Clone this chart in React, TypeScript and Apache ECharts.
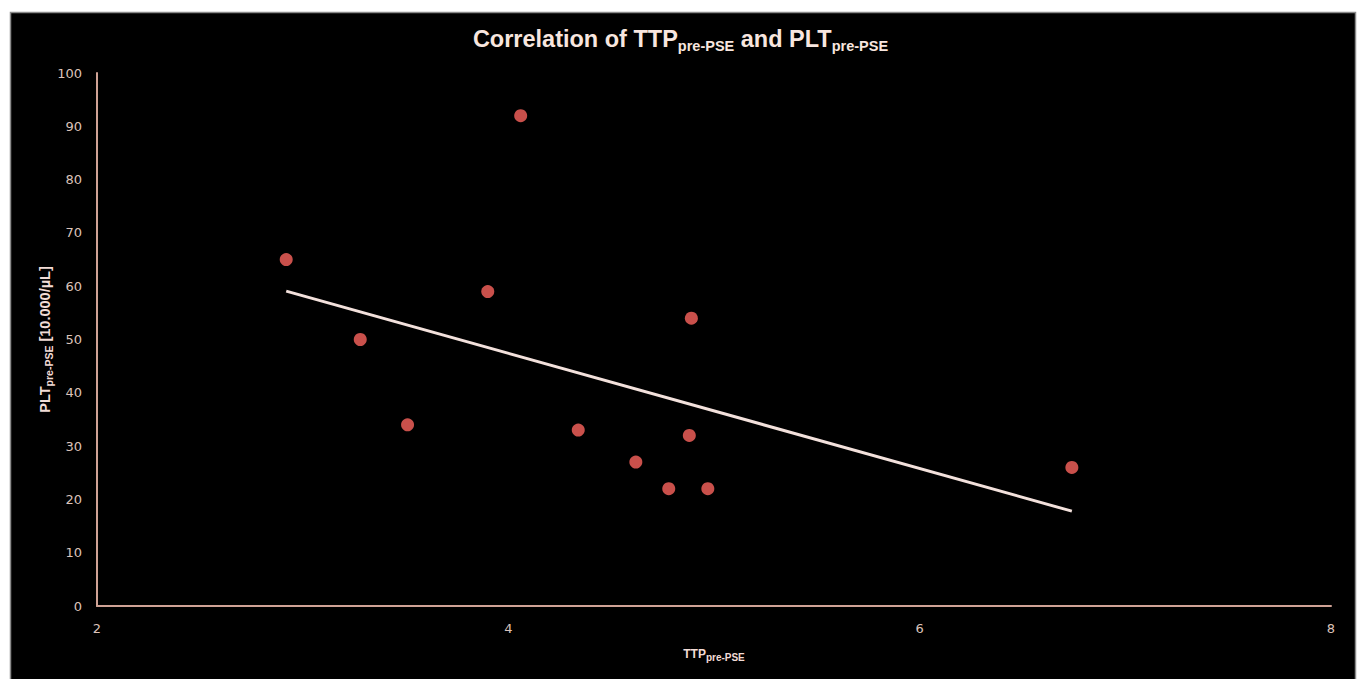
import React, { useEffect, useRef } from "react";
import * as echarts from "echarts";

// TTP pre-PSE (x) and PLT pre-PSE [10.000/µL] (y)
const ttpValues = [2.92, 3.28, 3.51, 3.9, 4.06, 4.34, 4.62, 4.78, 4.88, 4.89, 4.97, 6.74];
const pltValues = [65, 50, 34, 59, 92, 33, 27, 22, 32, 54, 22, 26];

const xAxisRange = [2, 8];
const xTickStep = 2;
const yAxisRange = [0, 100];
const yTickStep = 10;

const titleText = "Correlation of TTP{s|pre-PSE} and PLT{s|pre-PSE}";
const xName = "TTP{s|pre-PSE}";
const yName = "PLT{s|pre-PSE} [10.000/µL]";

function linearFit(xs: number[], ys: number[]) {
  const n = xs.length;
  const mx = xs.reduce((a, b) => a + b, 0) / n;
  const my = ys.reduce((a, b) => a + b, 0) / n;
  let sxy = 0;
  let sxx = 0;
  for (let i = 0; i < n; i++) {
    sxy += (xs[i] - mx) * (ys[i] - my);
    sxx += (xs[i] - mx) * (xs[i] - mx);
  }
  const slope = sxy / sxx;
  const intercept = my - slope * mx;
  return { slope, intercept };
}

export default function App() {
  const ref = useRef<HTMLDivElement>(null);

  useEffect(() => {
    if (!ref.current) return;
    const chart = echarts.init(ref.current, undefined, { renderer: "svg" });
    const { slope, intercept } = linearFit(ttpValues, pltValues);
    const xMin = Math.min(...ttpValues);
    const xMax = Math.max(...ttpValues);
    const trend = [
      [xMin, intercept + slope * xMin],
      [xMax, intercept + slope * xMax],
    ];
    const labelColor = "#dcc3ba";
    const axisColor = "#cfa295";
    const font = "'Liberation Sans', Arial, sans-serif";
    const tickFont = "'DejaVu Sans', sans-serif";

    chart.setOption({
      animation: false,
      backgroundColor: "#ffffff",
      graphic: [
        {
          type: "rect",
          z: -10,
          shape: { x: 10.5, y: 12.5, width: 1345, height: 700 },
          style: { fill: "#000000", stroke: "#8a8a8a", lineWidth: 1.5 },
          silent: true,
        },
      ],
      title: {
        text: titleText,
        left: "center",
        top: 25,
        padding: 0,
        textStyle: {
          color: "#f8e6df",
          fontSize: 23.5,
          fontWeight: "bold",
          fontFamily: font,
          lineHeight: 28,
          rich: {
            s: {
              color: "#f8e6df",
              fontSize: 14.5,
              fontWeight: "bold",
              fontFamily: font,
              lineHeight: 10,
              verticalAlign: "bottom",
            },
          },
        },
      },
      grid: { left: 97, right: 30, top: 73, bottom: 73 },
      xAxis: {
        type: "value",
        min: xAxisRange[0],
        max: xAxisRange[1],
        interval: xTickStep,
        name: xName,
        nameLocation: "middle",
        nameGap: 40,
        nameMoveOverlap: false,
        nameTextStyle: {
          color: "#f2dcd6",
          fontSize: 12,
          fontWeight: "bold",
          fontFamily: font,
          lineHeight: 16,
          rich: {
            s: {
              color: "#f2dcd6",
              fontSize: 10,
              fontFamily: font,
              lineHeight: 8,
              verticalAlign: "bottom",
            },
          },
        },
        axisLine: { show: true, onZero: false, lineStyle: { color: axisColor, width: 2 } },
        axisTick: { show: false },
        splitLine: { show: false },
        axisLabel: { color: labelColor, fontSize: 13, fontFamily: tickFont, margin: 16 },
      },
      yAxis: {
        type: "value",
        min: yAxisRange[0],
        max: yAxisRange[1],
        interval: yTickStep,
        name: yName,
        nameLocation: "middle",
        nameGap: 43,
        nameMoveOverlap: false,
        nameTextStyle: {
          color: "#f2dcd6",
          fontSize: 14.5,
          fontWeight: "bold",
          fontFamily: font,
          lineHeight: 18,
          rich: {
            s: {
              color: "#f2dcd6",
              fontSize: 10.5,
              fontFamily: font,
              lineHeight: 9,
              verticalAlign: "bottom",
            },
          },
        },
        axisLine: { show: true, lineStyle: { color: axisColor, width: 2 } },
        axisTick: { show: false },
        splitLine: { show: false },
        axisLabel: { color: labelColor, fontSize: 13, fontFamily: tickFont, margin: 15 },
      },
      series: [
        {
          type: "line",
          data: trend,
          symbol: "none",
          lineStyle: { color: "#f3e1dc", width: 3 },
          z: 2,
        },
        {
          type: "scatter",
          data: ttpValues.map((x, i) => [x, pltValues[i]]),
          symbol: "circle",
          symbolSize: 13,
          itemStyle: { color: "#c9504b", opacity: 1 },
          z: 3,
        },
      ],
    });
    return () => chart.dispose();
  }, []);

  return (
    <div
      ref={ref}
      style={{ position: "absolute", left: 0, top: 0, width: 1361, height: 679 }}
    />
  );
}
